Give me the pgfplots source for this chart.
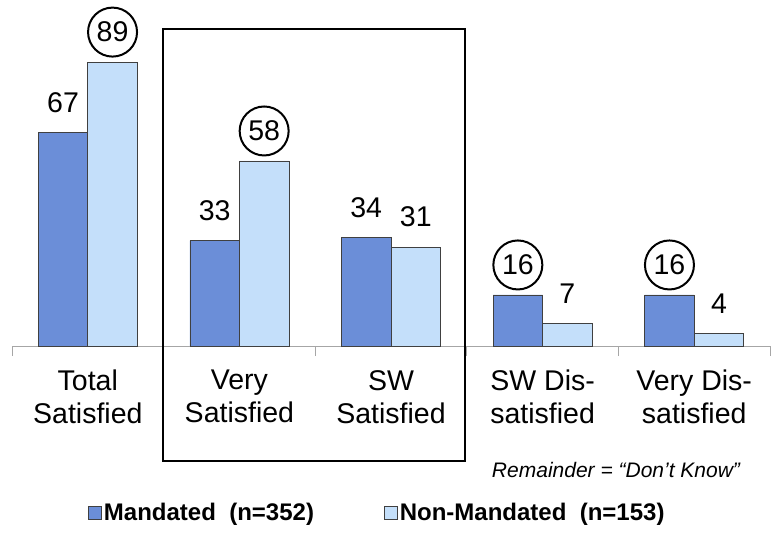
\documentclass[border=0pt]{standalone}
\usepackage{fontspec}
\setmainfont{Liberation Sans}
\usepackage{pgfplots}
\pgfplotsset{compat=1.18}
\usepackage{pgfplotstable}

\definecolor{mand}{HTML}{6B8ED8}
\definecolor{nonmand}{HTML}{C4DFFA}
\definecolor{axgray}{HTML}{A6A6A6}

% share (%) by satisfaction level; ring = 1 where the value is circled
\pgfplotstableread{
x y ring
0 67 0
1 33 0
2 34 0
3 16 1
4 16 1
}\mandated
\pgfplotstableread{
x y ring
0 89 1
1 58 1
2 31 0
3 7 0
4 4 0
}\nonmandated

\begin{document}
\begin{tikzpicture}
\begin{axis}[
  x=151.6bp, y=3.19bp,
  xmin=-0.5, xmax=4.5, ymin=0, ymax=100,
  ybar, bar width=49.5bp,
  axis x line*=bottom, axis y line=none,
  x axis line style={draw=axgray, line width=0.8bp, -},
  xtick={0,...,4},
  xticklabels={Total\\Satisfied, Very\\Satisfied, SW\\Satisfied, SW Dis-\\satisfied, Very Dis-\\satisfied},
  major tick length=0pt,
  minor xtick={-0.5,0.5,...,4.5},
  minor tick length=10bp,
  tick align=outside,
  minor tick style={draw=axgray, line width=0.8bp},
  xticklabel style={align=center, font=\fontsize{28.5bp}{33bp}\selectfont, inner sep=0pt, anchor=north, yshift=-24bp},
  clip=false,
  /pgf/number format/assume math mode=true,
  nodes near coords,
  visualization depends on={\thisrow{ring} \as \ringval},
  every node near coord/.append style={font=\fontsize{28.5bp}{33bp}\selectfont, circle, draw=black, draw opacity=\ringval, line width=2bp, minimum size=49bp, inner sep=0pt, anchor=center, yshift=30bp},
  legend columns=2,
  legend style={at={(axis description cs:0.482,-0.5235)}, anchor=center, draw=none, fill=none,
    font=\fontsize{24bp}{28bp}\selectfont\bfseries,
    /tikz/every even column/.append style={column sep=68bp}},
]
\addplot[fill=mand, draw=black!75, line width=0.8bp, bar shift=-24.75bp,
  legend image code/.code={\draw[fill=mand, draw=black!75, line width=0.8bp] (0bp,-6.5bp) rectangle (13bp,6.5bp);}]
  table[x=x, y=y] {\mandated};
\addlegendentry{Mandated\ \ (n=352)}
\addplot[fill=nonmand, draw=black!75, line width=0.8bp, bar shift=24.75bp,
  legend image code/.code={\draw[fill=nonmand, draw=black!75, line width=0.8bp] (0bp,-6.5bp) rectangle (13bp,6.5bp);}]
  table[x=x, y=y] {\nonmandated};
\addlegendentry{Non-Mandated\ \ (n=153)}
\end{axis}
\draw[line width=2bp] (151bp,317bp) rectangle (453bp,-115bp);
\node[font=\fontsize{21bp}{24bp}\selectfont\itshape] at (604bp,-124bp) {Remainder = “Don’t Know”};
\pgfresetboundingbox
\path[use as bounding box] (-12bp,-187bp) rectangle (764bp,346bp);
\end{tikzpicture}
\end{document}
